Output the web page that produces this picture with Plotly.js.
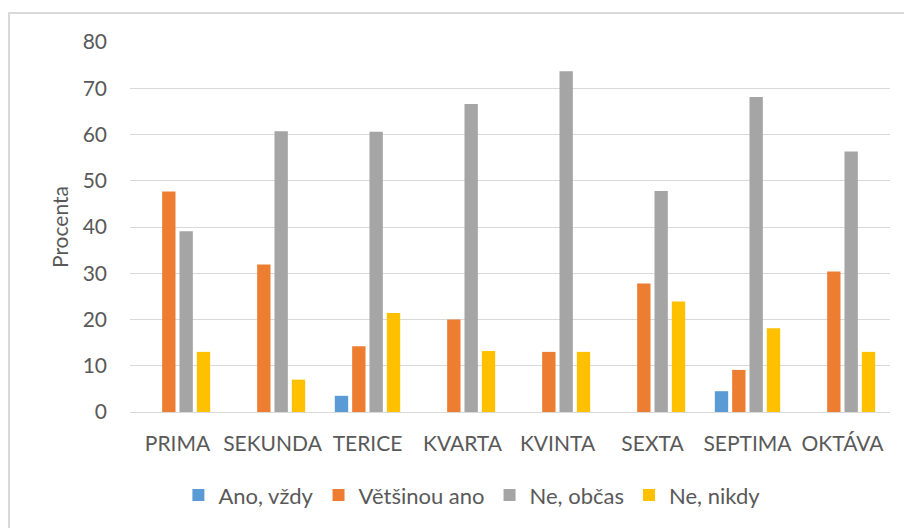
<!DOCTYPE html>
<html>
<head>
<meta charset="utf-8">
<script src="https://cdn.plot.ly/plotly-3.0.1.min.js"></script>
<style>
  html, body { margin: 0; padding: 0; background: #fff; overflow: hidden; }
  #chart { width: 904px; height: 528px; }
  #frame { position: absolute; left: 8px; top: 12px; width: 920px; height: 540px;
           border: 2px solid #d9d9d9; pointer-events: none; }
</style>
</head>
<body>
<div id="chart"></div>
<div id="frame"></div>
<script>
const categories = ["PRIMA", "SEKUNDA", "TERICE", "KVARTA", "KVINTA", "SEXTA", "SEPTIMA", "OKTÁVA"];
const seriesNames = ["Ano, vždy", "Většinou ano", "Ne, občas", "Ne, nikdy"];
const anoVzdy     = [0, 0, 3.5, 0, 0, 0, 4.5, 0];
const vetsinouAno = [47.7, 31.9, 14.2, 20.0, 13.0, 27.8, 9.1, 30.4];
const neObcas     = [39.1, 60.7, 60.6, 66.6, 73.7, 47.8, 68.1, 56.3];
const neNikdy     = [13.0, 7.0, 21.4, 13.2, 13.0, 23.9, 18.1, 13.0];
const yTicks = [0, 10, 20, 30, 40, 50, 60, 70, 80];

const colors = ["#5B9BD5", "#ED7D31", "#A5A5A5", "#FFC000"];
const values = [anoVzdy, vetsinouAno, neObcas, neNikdy];

const font = { family: "Lato, Open Sans, sans-serif", size: 21, color: "#595959" };

const data = values.map((v, i) => ({
  type: "bar",
  name: seriesNames[i],
  x: categories,
  y: v,
  marker: { color: colors[i] },
  hoverinfo: "x+y+name"
}));

const layout = {
  width: 904, height: 528,
  margin: { l: 130, r: 14, t: 42, b: 116 },
  paper_bgcolor: "#ffffff",
  plot_bgcolor: "#ffffff",
  font: font,
  barmode: "group",
  bargap: 0.27,
  bargroupgap: 0.23,
  showlegend: true,
  legend: {
    orientation: "h",
    xref: "container", yref: "container",
    x: 0.522, xanchor: "center",
    y: 0.062, yanchor: "middle",
    font: { family: font.family, size: 22, color: font.color },
    itemwidth: 30,
    traceorder: "normal"
  },
  xaxis: {
    type: "category",
    showgrid: false,
    showline: true, linecolor: "#d9d9d9", linewidth: 1,
    ticks: "", ticklabelstandoff: 13,
    tickfont: font
  },
  yaxis: {
    range: [0, 80],
    tickvals: yTicks,
    ticktext: yTicks.map(String),
    showgrid: true, gridcolor: "#d9d9d9", gridwidth: 1,
    zeroline: false,
    showline: false,
    ticks: "", ticklabelstandoff: 22,
    tickfont: font,
    title: { text: "Procenta", font: font, standoff: 8 }
  }
};

Plotly.newPlot("chart", data, layout, { displayModeBar: false, staticPlot: true });
</script>
</body>
</html>
